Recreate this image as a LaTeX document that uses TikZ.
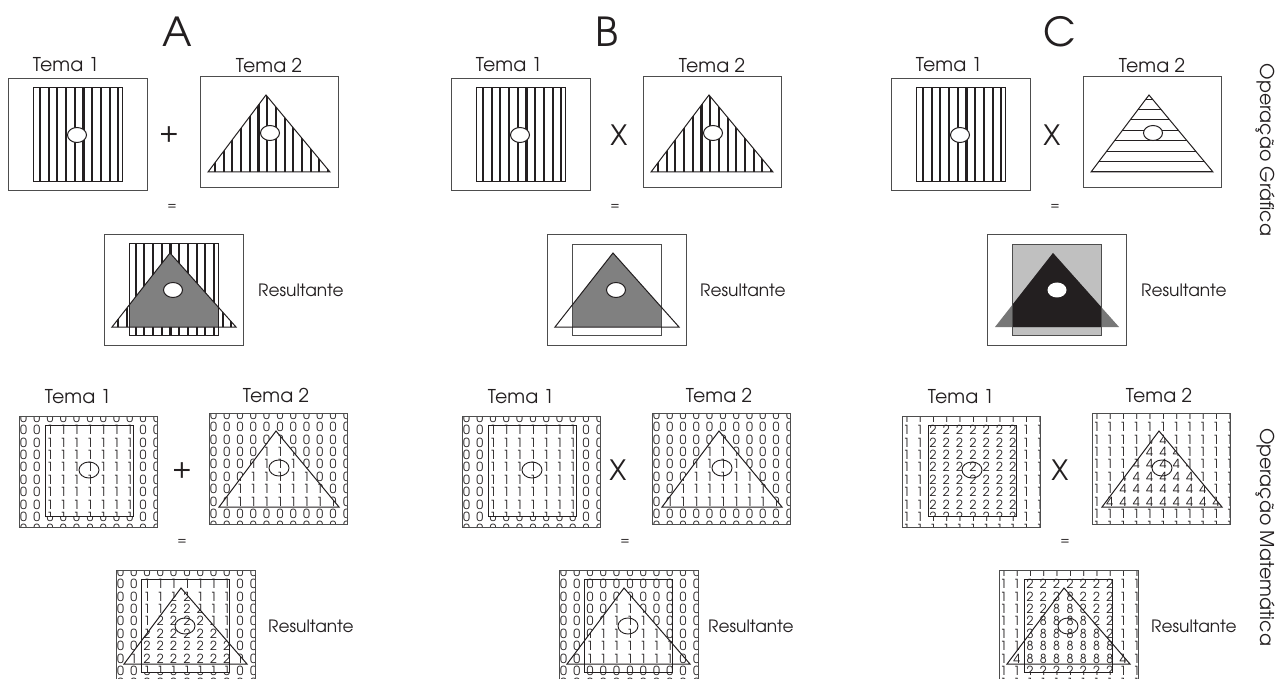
\documentclass[tikz,border=0pt]{standalone}
\usepackage{fontspec}
\setmainfont{TeX Gyre Adventor}
\definecolor{ink}{HTML}{231F20}
\definecolor{framec}{HTML}{4D4D4D}
\definecolor{midg}{HTML}{808080}
\definecolor{lightg}{HTML}{C0C0C0}
\definecolor{darkg}{HTML}{777777}
\tikzset{
  boxframe/.style={draw=framec, line width=1pt},
  edgeline/.style={draw=ink, line width=1pt},
  grayedge/.style={draw=framec, line width=0.9pt},
  hatchv/.style={draw=ink, line width=2.1pt},
  hatchh/.style={draw=ink, line width=1pt},
  hole/.style={draw=ink, line width=1pt, fill=white},
  ring/.style={draw=ink, line width=0.9pt},
  lbl/.style={font=\fontsize{19}{19}\selectfont, text=ink, inner sep=0pt},
  reslbl/.style={font=\fontsize{17}{17}\selectfont, text=ink, inner sep=0pt, anchor=west},
  bigl/.style={font=\fontsize{40}{40}\selectfont, text=ink, inner sep=0pt},
  opsym/.style={font=\fontsize{28}{28}\selectfont, text=ink, inner sep=0pt},
  eqsym/.style={font=\fontsize{13}{13}\selectfont, text=ink, inner sep=0pt},
  dig/.style={font=\fontsize{12.5}{12.5}\selectfont, text=ink, inner sep=0pt},
  sidelbl/.style={font=\fontsize{19}{19}\selectfont, text=ink, inner sep=0pt, rotate=-90},
}
\newcommand\digitgrid[3]{%
  \foreach \i in {0,...,10}{\foreach \j in {0,...,9}{%
    \node[dig] at ({#2+13.3*\i},{#3+12.4*\j}) {#1};}}}
% ---------- top row pieces ----------
\newcommand\TopTemaOne{%
  \draw[boxframe] (8,79) rectangle (147,191);
  \begin{scope}
    \clip (33,88) rectangle (122,182);
    \foreach \k in {0,...,9} \draw[hatchv] ({40+8.7*\k},86) -- ({40+8.7*\k},184);
  \end{scope}
  \draw[edgeline] (33,88) rectangle (122,182);
  \draw[hole] (77,135) ellipse [x radius=9.5pt, y radius=7.5pt];
}
\newcommand\TopTemaTwo[1]{%
  \draw[boxframe] (200,77) rectangle (338,188);
  \begin{scope}
    \clip (208,172) -- (266,95) -- (330,172) -- cycle;
    \ifnum#1=1
      \foreach \k in {0,...,14} \draw[hatchv] ({206.3+8.7*\k},92) -- ({206.3+8.7*\k},174);
    \else
      \foreach \k in {0,...,8} \draw[hatchh] (205,{172-10.4*\k}) -- (335,{172-10.4*\k});
    \fi
  \end{scope}
  \draw[edgeline] (208,172) -- (266,95) -- (330,172) -- cycle;
  \draw[hole] (270,133) ellipse [x radius=9.5pt, y radius=7.5pt];
}
% ---------- bottom row pieces ----------
\newcommand\BotTemaOne[2]{%
  \begin{scope}
    \clip (19,416) rectangle (157,527);
    \digitgrid{#1}{23.5}{417.6}
  \end{scope}
  \begin{scope}
    \clip (45,425) rectangle (133,516);
    \fill[white] (45,425) rectangle (133,516);
    \digitgrid{#2}{23.5}{417.6}
  \end{scope}
  \draw[boxframe] (19,416) rectangle (157,527);
  \draw[edgeline] (45,425) rectangle (133,516);
  \draw[ring] (89,470) ellipse [x radius=10pt, y radius=8pt];
}
\newcommand\BotTemaTwo[2]{%
  \begin{scope}
    \clip (209,413) rectangle (347,524);
    \digitgrid{#1}{213.5}{414.6}
  \end{scope}
  \begin{scope}
    \clip (219,507) -- (276,431) -- (339,507) -- cycle;
    \fill[white] (219,507) -- (276,431) -- (339,507) -- cycle;
    \digitgrid{#2}{213.5}{414.6}
  \end{scope}
  \draw[boxframe] (209,413) rectangle (347,524);
  \draw[edgeline] (219,507) -- (276,431) -- (339,507) -- cycle;
  \draw[ring] (279,468) ellipse [x radius=10pt, y radius=8pt];
}
\newcommand\BotRes[4]{%
  \begin{scope}
    \clip (116,570) rectangle (255,681);
    \digitgrid{#1}{120.5}{571.6}
  \end{scope}
  \begin{scope}
    \clip (141,579) rectangle (229,672);
    \fill[white] (141,579) rectangle (229,672);
    \digitgrid{#2}{120.5}{571.6}
  \end{scope}
  \begin{scope}
    \clip (124,664) -- (181,588) -- (247,664) -- cycle;
    \fill[white] (124,664) -- (181,588) -- (247,664) -- cycle;
    \digitgrid{#3}{120.5}{571.6}
  \end{scope}
  \begin{scope}
    \clip (141,579) rectangle (229,672);
    \clip (124,664) -- (181,588) -- (247,664) -- cycle;
    \fill[white] (124,664) -- (181,588) -- (247,664) -- cycle;
    \digitgrid{#4}{120.5}{571.6}
  \end{scope}
  \draw[boxframe] (116,570) rectangle (255,681);
  \draw[edgeline] (141,579) rectangle (229,672);
  \draw[edgeline] (124,664) -- (181,588) -- (247,664) -- cycle;
  \draw[ring] (185,626) ellipse [x radius=10pt, y radius=8pt];
}
\begin{document}
\begin{tikzpicture}[x=1pt,y=-1pt]
\useasboundingbox (0,0) rectangle (1278,679);
\fill[white] (0,0) rectangle (1278,679);

% ================= big letters =================
\node[bigl] (letA) at (177,32) {A};
\node[bigl] (letB) at (607,32) {B};
\node[bigl] (letC) at (1060,32) {C};

% ================= PANEL A =================
\begin{scope}
  \node[lbl] (a-t1) at (66,65) {Tema 1};
  \node[lbl] (a-t2) at (269,65) {Tema 2};
  \TopTemaOne
  \TopTemaTwo{1}
  \node[opsym] (a-op) at (169,135) {+};
  \node[eqsym] (a-eq) at (172,207) {=};
  % resultant
  \draw[boxframe] (104,235) rectangle (243,345);
  \begin{scope}
    \clip (129,244) rectangle (218,335);
    \foreach \k in {0,...,16} \draw[hatchv] ({100.9+8.7*\k},240) -- ({100.9+8.7*\k},340);
  \end{scope}
  \begin{scope}
    \clip (112,327) -- (170,253) -- (236,327) -- cycle;
    \foreach \k in {0,...,16} \draw[hatchv] ({100.9+8.7*\k},240) -- ({100.9+8.7*\k},340);
  \end{scope}
  \begin{scope}
    \clip (129,244) rectangle (218,335);
    \fill[midg] (112,327) -- (170,253) -- (236,327) -- cycle;
  \end{scope}
  \draw[edgeline] (129,244) rectangle (218,335);
  \draw[edgeline] (112,327) -- (170,253) -- (236,327) -- cycle;
  \draw[hole] (173,290) ellipse [x radius=9.5pt, y radius=7.5pt];
  \node[reslbl] (a-res) at (258,290) {Resultante};
  % bottom
  \node[lbl] (a-bt1) at (78,397) {Tema 1};
  \node[lbl] (a-bt2) at (276,395) {Tema 2};
  \BotTemaOne{0}{1}
  \BotTemaTwo{0}{1}
  \node[opsym] (a-bop) at (182,470) {+};
  \node[eqsym] (a-beq) at (182,542) {=};
  \BotRes{0}{1}{1}{2}
  \node[reslbl] (a-bres) at (268,626) {Resultante};
\end{scope}

% ================= PANEL B =================
\begin{scope}[xshift=443]
  \node[lbl] (b-t1) at (66,65) {Tema 1};
  \node[lbl] (b-t2) at (269,65) {Tema 2};
  \TopTemaOne
  \TopTemaTwo{1}
  \node[opsym] (b-op) at (176,135) {X};
  \node[eqsym] (b-eq) at (172,207) {=};
  \draw[boxframe] (104,235) rectangle (243,345);
  \begin{scope}
    \clip (129,244) rectangle (218,335);
    \fill[midg] (112,327) -- (170,253) -- (236,327) -- cycle;
  \end{scope}
  \draw[grayedge] (129,244) rectangle (218,335);
  \draw[edgeline] (112,327) -- (170,253) -- (236,327) -- cycle;
  \draw[hole] (173,290) ellipse [x radius=9.5pt, y radius=7.5pt];
  \node[reslbl] (b-res) at (257,290) {Resultante};
  % bottom
  \node[lbl] (b-bt1) at (78,397) {Tema 1};
  \node[lbl] (b-bt2) at (276,395) {Tema 2};
  \BotTemaOne{0}{1}
  \BotTemaTwo{0}{1}
  \node[opsym] (b-bop) at (175,470) {X};
  \node[eqsym] (b-beq) at (182,542) {=};
  \BotRes{0}{0}{0}{1}
  \node[reslbl] (b-bres) at (265,626) {Resultante};
\end{scope}

% ================= PANEL C =================
\begin{scope}[xshift=883]
  \node[lbl] (c-t1) at (66,65) {Tema 1};
  \node[lbl] (c-t2) at (269,65) {Tema 2};
  \TopTemaOne
  \TopTemaTwo{2}
  \node[opsym] (c-op) at (169,135) {X};
  \node[eqsym] (c-eq) at (172,207) {=};
  \draw[boxframe] (104,235) rectangle (243,345);
  \fill[lightg] (129,244) rectangle (218,335);
  \fill[darkg] (112,327) -- (170,253) -- (236,327) -- cycle;
  \begin{scope}
    \clip (129,244) rectangle (218,335);
    \fill[ink] (112,327) -- (170,253) -- (236,327) -- cycle;
  \end{scope}
  \draw[grayedge] (129,244) rectangle (218,335);
  \fill[white] (174,290) ellipse [x radius=9.5pt, y radius=7.5pt];
  \node[reslbl] (c-res) at (258,290) {Resultante};
  % bottom
  \node[lbl] (c-bt1) at (78,397) {Tema 1};
  \node[lbl] (c-bt2) at (276,395) {Tema 2};
  \BotTemaOne{1}{2}
  \BotTemaTwo{1}{4}
  \node[opsym] (c-bop) at (177,470) {X};
  \node[eqsym] (c-beq) at (182,542) {=};
  \BotRes{1}{2}{4}{8}
  \node[reslbl] (c-bres) at (268,626) {Resultante};
\end{scope}

% ================= side labels =================
\node[sidelbl] (side1) at (1265,150) {Operação Gráfica};
\node[sidelbl] (side2) at (1265,537) {Operação Matemática};
\end{tikzpicture}
\end{document}
